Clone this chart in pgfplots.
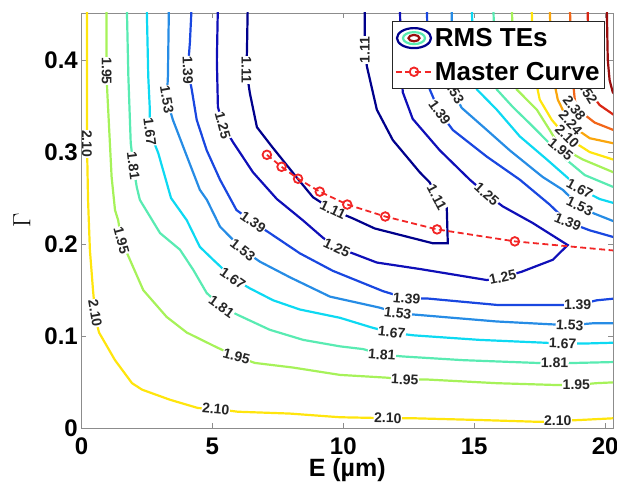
\documentclass[border=0pt]{standalone}
\usepackage{pgfplots}
\pgfplotsset{compat=1.18}
\usepackage{fontspec}
\setmainfont{Liberation Sans}
\definecolor{c111}{rgb}{0.00,0.00,0.55}
\definecolor{c125}{rgb}{0.06,0.06,0.72}
\definecolor{c139}{rgb}{0.10,0.28,0.88}
\definecolor{c153}{rgb}{0.15,0.55,0.90}
\definecolor{c167}{rgb}{0.05,0.85,0.95}
\definecolor{c181}{rgb}{0.35,0.92,0.70}
\definecolor{c195}{rgb}{0.65,0.95,0.35}
\definecolor{c210}{rgb}{1.00,0.90,0.05}
\definecolor{c224}{rgb}{0.98,0.65,0.05}
\definecolor{c238}{rgb}{0.95,0.40,0.10}
\definecolor{c252}{rgb}{0.85,0.15,0.08}
\definecolor{c266}{rgb}{0.60,0.05,0.05}
\definecolor{mred}{rgb}{0.95,0.15,0.15}
\pgfplotsset{mylegend/.style={legend image code/.code={\draw[mark repeat=2,mark phase=2,##1] plot coordinates {(0pt,0pt) (18pt,0pt) (36pt,0pt)};}}}
\begin{document}
\begin{tikzpicture}[cl/.style={font=\bfseries\fontsize{14}{14}\selectfont, fill=white, inner sep=0.5pt, text=black!85}]
\path[use as bounding box] (-81.5pt,-60.7pt) rectangle (535.5pt,428.3pt);
\begin{axis}[at={(0pt,0pt)}, anchor=south west, scale only axis, width=531.5pt, height=415.3pt,
 xmin=0, xmax=20.3, ymin=0, ymax=0.451,
 xtick={0,5,10,15,20}, ytick={0,0.1,0.2,0.3,0.4},
 tick align=inside, major tick length=5pt,
 axis line style={draw=black!45, line width=0.9pt},
 tick style={draw=black!45, line width=0.8pt},
 /pgf/number format/assume math mode=true,
 tick label style={font=\bfseries\fontsize{24}{24}\selectfont},
 xticklabel style={inner sep=0pt, yshift=-9pt},
 yticklabel style={inner sep=0pt, xshift=-3.5pt},
 xlabel={E (µm)}, xlabel style={font=\bfseries\fontsize{25}{25}\selectfont, at={(axis description cs:0.5,-0.1)}, anchor=center},
 ylabel={$\Gamma$}, ylabel style={font=\fontsize{25}{25}\selectfont, at={(axis description cs:-0.112,0.5)}, anchor=center},
 legend style={at={(0.985,0.981)}, anchor=north east, draw=black!85, line width=0.8pt, fill=white, font=\bfseries\fontsize{26}{26}\selectfont, inner xsep=3pt, inner ysep=5pt, row sep=10pt},
 legend cell align=left,
]
% contour lines
\addplot[forget plot, c210, line width=2.2pt] coordinates {(0.21,0.46)(0.21,0.357)(0.21,0.309)(0.25,0.248)(0.32,0.194)(0.44,0.150)(0.52,0.125)(0.55,0.118)(0.67,0.104)(1.28,0.074)(1.93,0.049)(2.31,0.042)(3.38,0.031)(4.45,0.022)(5.13,0.021)(5.97,0.018)(7.96,0.016)(9.87,0.012)(11.70,0.011)(12.54,0.011)(15.21,0.009)(17.50,0.007)(18.19,0.008)(19.02,0.009)(20.4,0.011)};
\addplot[forget plot, c195, line width=2.2pt] coordinates {(0.95,0.46)(0.96,0.388)(0.98,0.368)(1.15,0.273)(1.28,0.237)(1.40,0.226)(1.53,0.204)(1.85,0.183)(2.36,0.150)(3.25,0.121)(4.02,0.104)(5.16,0.088)(5.92,0.078)(6.62,0.071)(8.07,0.066)(9.87,0.058)(11.65,0.055)(12.35,0.053)(13.18,0.053)(15.85,0.049)(18.14,0.047)(18.90,0.047)(19.66,0.049)(20.4,0.050)};
\addplot[forget plot, c181, line width=2.2pt] coordinates {(1.73,0.46)(1.79,0.382)(1.88,0.310)(1.98,0.285)(2.11,0.262)(2.23,0.248)(3.00,0.212)(3.76,0.194)(4.27,0.172)(4.78,0.147)(5.35,0.132)(5.98,0.123)(7.19,0.107)(8.47,0.096)(9.87,0.089)(10.76,0.086)(11.47,0.080)(12.28,0.078)(14.57,0.074)(17.37,0.071)(18.07,0.071)(18.90,0.071)(20.4,0.072)};
\addplot[forget plot, c167, line width=2.2pt] coordinates {(2.49,0.46)(2.55,0.382)(2.61,0.346)(2.61,0.322)(2.93,0.299)(3.42,0.250)(4.02,0.226)(4.52,0.197)(5.03,0.183)(5.78,0.163)(6.43,0.152)(7.32,0.139)(8.34,0.129)(9.87,0.120)(11.14,0.109)(11.85,0.104)(12.66,0.101)(15.21,0.096)(17.63,0.093)(18.38,0.092)(19.15,0.092)(20.4,0.093)};
\addplot[forget plot, c153, line width=2.2pt] coordinates {(3.34,0.46)(3.30,0.382)(3.26,0.357)(3.49,0.335)(4.03,0.295)(4.52,0.259)(4.79,0.248)(5.29,0.219)(6.16,0.194)(6.81,0.181)(7.96,0.164)(9.49,0.143)(11.39,0.131)(12.08,0.125)(12.92,0.123)(15.86,0.116)(17.88,0.113)(18.65,0.112)(19.52,0.114)(20.4,0.114)};
\addplot[forget plot, c139, line width=2.2pt] coordinates {(4.21,0.46)(4.14,0.419)(4.06,0.389)(4.21,0.368)(4.40,0.335)(4.78,0.302)(5.29,0.270)(5.92,0.237)(6.55,0.224)(7.19,0.212)(8.34,0.190)(9.60,0.171)(11.51,0.149)(12.42,0.141)(13.19,0.141)(15.86,0.134)(18.15,0.134)(18.95,0.134)(19.68,0.139)(20.4,0.141)};
\addplot[forget plot, c125, line width=2.2pt] coordinates {(5.21,0.46)(5.17,0.400)(5.21,0.349)(5.40,0.329)(5.78,0.311)(6.55,0.278)(7.46,0.249)(8.45,0.226)(9.22,0.207)(9.75,0.196)(10.36,0.190)(11.28,0.180)(12.92,0.173)(15.48,0.161)(16.09,0.164)(16.81,0.170)(18.00,0.183)(18.57,0.199)(17.23,0.223)(16.09,0.241)(15.48,0.254)(14.83,0.270)(13.68,0.302)(12.65,0.336)(12.27,0.365)(12.20,0.400)(12.16,0.46)};
\addplot[forget plot, c111, line width=2.2pt] coordinates {(6.35,0.46)(6.32,0.411)(6.30,0.389)(6.43,0.364)(6.70,0.327)(7.27,0.306)(8.23,0.272)(8.84,0.251)(9.60,0.237)(10.36,0.228)(11.20,0.217)(13.41,0.201)(13.99,0.201)(13.95,0.240)(13.57,0.251)(13.30,0.267)(12.92,0.278)(11.89,0.313)(11.28,0.346)(10.90,0.393)(10.82,0.411)(10.82,0.46)};
% upper-right branches
\addplot[forget plot, c139, line width=2.2pt] coordinates {(13.19,0.46)(13.23,0.400)(13.30,0.368)(13.68,0.343)(14.18,0.324)(15.48,0.295)(16.74,0.270)(17.88,0.243)(18.57,0.224)(19.41,0.215)(20.4,0.207)};
\addplot[forget plot, c153, line width=2.2pt] coordinates {(14.14,0.46)(14.14,0.400)(14.26,0.362)(14.52,0.348)(15.48,0.324)(16.35,0.302)(17.61,0.273)(18.38,0.259)(19.03,0.241)(19.60,0.233)(20.4,0.224)};
\addplot[forget plot, c167, line width=2.2pt] coordinates {(14.90,0.46)(14.98,0.400)(15.10,0.368)(15.86,0.346)(16.74,0.317)(17.77,0.292)(18.53,0.273)(19.03,0.260)(19.79,0.249)(20.4,0.244)};
\addplot[forget plot, c181, line width=2.2pt] coordinates {(15.73,0.46)(15.78,0.400)(15.86,0.368)(16.47,0.349)(17.12,0.331)(18.38,0.295)(19.22,0.275)(20.4,0.261)};
\addplot[forget plot, c195, line width=2.2pt] coordinates {(16.43,0.46)(16.51,0.400)(16.62,0.368)(17.39,0.346)(17.88,0.324)(18.26,0.306)(19.14,0.292)(20.4,0.277)};
\addplot[forget plot, c210, line width=2.2pt] coordinates {(17.19,0.46)(17.27,0.389)(17.50,0.357)(17.96,0.335)(18.53,0.316)(19.41,0.300)(20.4,0.291)};
\addplot[forget plot, c224, line width=2.2pt] coordinates {(17.88,0.46)(17.96,0.389)(18.19,0.357)(18.65,0.330)(19.41,0.315)(20.4,0.309)};
\addplot[forget plot, c238, line width=2.2pt] coordinates {(18.65,0.46)(18.73,0.389)(18.84,0.357)(18.92,0.347)(19.60,0.332)(20.4,0.323)};
\addplot[forget plot, c252, line width=2.2pt] coordinates {(19.33,0.46)(19.37,0.389)(19.42,0.365)(19.79,0.351)(20.4,0.339)};
\addplot[forget plot, c266, line width=2.2pt] coordinates {(20.06,0.46)(20.10,0.400)(20.17,0.378)(20.29,0.365)(20.55,0.357)};
% contour labels
\node[cl, rotate=-90] at (axis cs:6.30,0.389) {1.11};
\node[cl, rotate=-25] at (axis cs:9.60,0.237) {1.11};
\node[cl, rotate=-62] at (axis cs:13.57,0.251) {1.11};
\node[cl, rotate=90] at (axis cs:10.82,0.411) {1.11};
\node[cl, rotate=-75] at (axis cs:5.40,0.329) {1.25};
\node[cl, rotate=-25] at (axis cs:9.75,0.196) {1.25};
\node[cl, rotate=12] at (axis cs:16.09,0.164) {1.25};
\node[cl, rotate=-42] at (axis cs:15.48,0.254) {1.25};
\node[cl, rotate=-88] at (axis cs:4.06,0.389) {1.39};
\node[cl, rotate=-35] at (axis cs:6.55,0.224) {1.39};
\node[cl, rotate=-5] at (axis cs:12.42,0.141) {1.39};
\node[cl, rotate=0] at (axis cs:18.95,0.134) {1.39};
\node[cl, rotate=-55] at (axis cs:13.68,0.343) {1.39};
\node[cl, rotate=-22] at (axis cs:18.57,0.224) {1.39};
\node[cl, rotate=-80] at (axis cs:3.26,0.357) {1.53};
\node[cl, rotate=-38] at (axis cs:6.16,0.194) {1.53};
\node[cl, rotate=-7] at (axis cs:12.08,0.125) {1.53};
\node[cl, rotate=-3] at (axis cs:18.65,0.112) {1.53};
\node[cl, rotate=-60] at (axis cs:14.22,0.366) {1.53};
\node[cl, rotate=-25] at (axis cs:19.03,0.241) {1.53};
\node[cl, rotate=-83] at (axis cs:2.61,0.322) {1.67};
\node[cl, rotate=-35] at (axis cs:5.78,0.163) {1.67};
\node[cl, rotate=-6] at (axis cs:11.85,0.104) {1.67};
\node[cl, rotate=-2] at (axis cs:18.38,0.092) {1.67};
\node[cl, rotate=-28] at (axis cs:19.03,0.260) {1.67};
\node[cl, rotate=-83] at (axis cs:1.98,0.285) {1.81};
\node[cl, rotate=-35] at (axis cs:5.35,0.132) {1.81};
\node[cl, rotate=-4] at (axis cs:11.47,0.080) {1.81};
\node[cl, rotate=-1] at (axis cs:18.07,0.071) {1.81};
\node[cl, rotate=-90] at (axis cs:0.96,0.388) {1.95};
\node[cl, rotate=-75] at (axis cs:1.53,0.204) {1.95};
\node[cl, rotate=-15] at (axis cs:5.92,0.078) {1.95};
\node[cl, rotate=-3] at (axis cs:12.35,0.053) {1.95};
\node[cl, rotate=0] at (axis cs:18.90,0.047) {1.95};
\node[cl, rotate=-40] at (axis cs:18.30,0.303) {1.95};
\node[cl, rotate=-90] at (axis cs:0.21,0.309) {2.10};
\node[cl, rotate=-80] at (axis cs:0.52,0.125) {2.10};
\node[cl, rotate=-5] at (axis cs:5.13,0.021) {2.10};
\node[cl, rotate=-1] at (axis cs:11.70,0.011) {2.10};
\node[cl, rotate=0] at (axis cs:18.19,0.008) {2.10};
\node[cl, rotate=-45] at (axis cs:18.55,0.317) {2.10};
\node[cl, rotate=-48] at (axis cs:18.68,0.332) {2.24};
\node[cl, rotate=-52] at (axis cs:18.82,0.348) {2.38};
\node[cl, rotate=-58] at (axis cs:19.30,0.366) {2.52};
% legend image for contours
\addlegendimage{legend image code/.code={
  \draw[c111, line width=2.2pt] (18pt,0pt) ellipse [x radius=17pt, y radius=10pt];
  \draw[c181, line width=2.2pt] (18pt,0pt) ellipse [x radius=11pt, y radius=6pt];
  \draw[c266, line width=2.2pt] (18pt,0pt) ellipse [x radius=5.5pt, y radius=3.2pt];
}}
\addlegendentry{RMS TEs}
% master curve
\addplot[mylegend, mred, line width=1.8pt, dash pattern=on 6pt off 3.5pt, mark=o, mark size=4.3pt, mark options={solid, fill=white}] coordinates {(7.08,0.297)(7.64,0.284)(8.27,0.271)(9.10,0.257)(10.15,0.243)(11.60,0.230)(13.58,0.216)(16.55,0.203)(21.5,0.190)};
\addlegendentry{Master Curve}
\end{axis}
\end{tikzpicture}
\end{document}
